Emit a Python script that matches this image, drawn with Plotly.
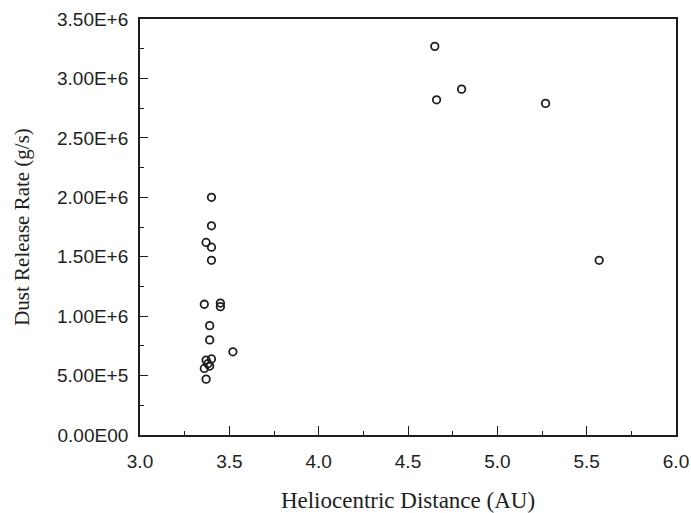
import plotly.graph_objects as go

distance = [3.40, 3.40, 3.37, 3.40, 3.40, 3.36, 3.45, 3.45, 3.39, 3.39, 3.52,
            3.37, 3.40, 3.38, 3.39, 3.36, 3.37,
            4.65, 4.66, 4.80, 5.27, 5.57]
rate = [2.00e6, 1.76e6, 1.62e6, 1.58e6, 1.47e6, 1.10e6, 1.11e6, 1.08e6, 0.92e6, 0.80e6, 0.70e6,
        0.63e6, 0.64e6, 0.60e6, 0.58e6, 0.56e6, 0.47e6,
        3.27e6, 2.82e6, 2.91e6, 2.79e6, 1.47e6]

x_ticks = [3.0, 3.5, 4.0, 4.5, 5.0, 5.5, 6.0]
x_labels = ["3.0", "3.5", "4.0", "4.5", "5.0", "5.5", "6.0"]
y_ticks = [0, 5e5, 1e6, 1.5e6, 2e6, 2.5e6, 3e6, 3.5e6]
y_labels = ["0.00E00", "5.00E+5", "1.00E+6", "1.50E+6", "2.00E+6", "2.50E+6", "3.00E+6", "3.50E+6"]

ink = "#1e1e1e"

fig = go.Figure(go.Scatter(
    x=distance, y=rate, mode="markers",
    marker=dict(symbol="circle-open", size=7.5, color=ink, line=dict(width=1.8, color=ink)),
    showlegend=False,
))

fig.update_layout(
    width=691, height=513,
    margin=dict(l=140, r=15, t=19, b=78, autoexpand=False),
    paper_bgcolor="white", plot_bgcolor="white",
    font=dict(family="Liberation Sans, Arial", color=ink, size=19),
)
fig.update_xaxes(
    range=[3.0, 6.0], tickvals=x_ticks, ticktext=x_labels,
    ticks="inside", ticklen=9, tickwidth=1.4, tickcolor=ink,
    minor=dict(ticks="inside", ticklen=4, tickwidth=1.3, tickcolor=ink, dtick=0.25, showgrid=False),
    showline=True, linecolor=ink, linewidth=1.8, mirror=True, showgrid=False, zeroline=False,
    tickfont=dict(size=19), ticklabelstandoff=8,
    title=dict(text="Heliocentric Distance (AU)", font=dict(family="Liberation Serif, Times New Roman", size=23), standoff=22),
)
fig.update_yaxes(
    range=[0, 3.5e6], tickvals=y_ticks, ticktext=y_labels,
    ticks="inside", ticklen=8, tickwidth=1.4, tickcolor=ink,
    minor=dict(ticks="inside", ticklen=4, tickwidth=1.3, tickcolor=ink, dtick=2.5e5, showgrid=False),
    showline=True, linecolor=ink, linewidth=1.8, mirror=True, showgrid=False, zeroline=False,
    tickfont=dict(size=19), ticklabelstandoff=6,
    title=dict(text="Dust Release Rate (g/s)", font=dict(family="Liberation Serif, Times New Roman", size=21), standoff=22),
)

fig.write_html("out.html")
